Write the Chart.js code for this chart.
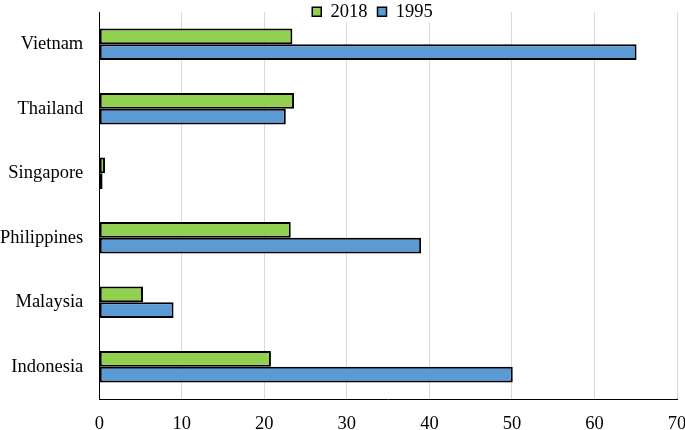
<!DOCTYPE html>
<html>
<head>
<meta charset="utf-8">
<script src="https://cdn.jsdelivr.net/npm/chart.js@4"></script>
<style>
  html, body { margin: 0; padding: 0; background: #fff; }
  #wrap { width: 685px; height: 430px; }
</style>
</head>
<body>
<div id="wrap"><canvas id="chart"></canvas></div>
<script>
// data
const countries = ['Vietnam', 'Thailand', 'Singapore', 'Philippines', 'Malaysia', 'Indonesia'];
const values2018 = [23.4, 23.6, 0.7, 23.2, 5.3, 20.8];
const values1995 = [65.1, 22.6, 0.4, 39.0, 9.0, 50.1];
const xTicks = [0, 10, 20, 30, 40, 50, 60, 70];

const serif = "'Liberation Serif', 'Times New Roman', serif";
const fontSize = 18.5;
const plotTop = 12, plotBottom = 399;

// legend overlaps the top of the plot, over a white patch (like the original)
const legendOverlay = {
  id: 'legendOverlay',
  afterLayout(chart) {
    const lg = chart.legend;
    const h = lg.height, w = lg.width;
    lg.top = -7.5;
    lg.bottom = lg.top + h;
    lg.left += 30;
    lg.right = lg.left + w;
  },
  beforeDatasetsDraw(chart) {
    const lg = chart.legend;
    const boxes = lg.legendHitBoxes || [];
    if (!boxes.length) return;
    const l = Math.min(...boxes.map(b => b.left)) - 4;
    const r = Math.max(...boxes.map(b => b.left + b.width)) + 4;
    const t = Math.max(0, Math.min(...boxes.map(b => b.top)));
    const b = Math.max(...boxes.map(b => b.top + b.height)) + 1;
    const ctx = chart.ctx;
    ctx.save();
    ctx.fillStyle = '#fff';
    ctx.fillRect(l, t, r - l, b - t);
    ctx.restore();
    lg.draw();
  }
};

const chart = new Chart(document.getElementById('chart'), {
  type: 'bar',
  data: {
    labels: countries,
    datasets: [
      { label: '2018', data: values2018, backgroundColor: '#92D050', borderColor: '#000', borderWidth: 2, borderSkipped: false },
      { label: '1995', data: values1995, backgroundColor: '#5B9BD5', borderColor: '#000', borderWidth: 2, borderSkipped: false }
    ]
  },
  plugins: [legendOverlay],
  options: {
    indexAxis: 'y',
    responsive: true,
    maintainAspectRatio: false,
    animation: false,
    layout: { padding: { left: 0, right: 0, top: 0, bottom: 0 } },
    datasets: { bar: { categoryPercentage: 0.49, barPercentage: 1.0 } },
    plugins: {
      tooltip: { enabled: false },
      legend: {
        position: 'top',
        align: 'center',
        labels: {
          font: { family: serif, size: fontSize },
          color: '#000',
          boxWidth: 9,
          boxHeight: 9,
          padding: 10,
          generateLabels: (chart) => chart.data.datasets.map((ds, i) => ({
            text: ds.label,
            fillStyle: ds.backgroundColor,
            strokeStyle: '#000',
            lineWidth: 1.5,
            datasetIndex: i,
            fontColor: '#000'
          }))
        }
      }
    },
    scales: {
      x: {
        min: 0,
        max: 70,
        afterBuildTicks: (axis) => { axis.ticks = xTicks.map(v => ({ value: v })); },
        afterFit: (axis) => { axis.paddingRight = 8; },
        grid: { color: '#d9d9d9', lineWidth: 1, drawTicks: false },
        border: { color: '#000', width: 1 },
        ticks: { font: { family: serif, size: fontSize, lineHeight: 1 }, color: '#000', padding: 16, maxRotation: 0 }
      },
      y: {
        afterFit: (axis) => { axis.width -= 16; axis.paddingTop = 0; axis.paddingBottom = 0; },
        grid: { display: false, drawTicks: false },
        border: { color: '#000', width: 1 },
        ticks: { font: { family: serif, size: fontSize }, color: '#000', padding: 16 }
      }
    }
  }
});

// second pass: pin the plot area to where it sits in the original
const ca = chart.chartArea;
chart.options.layout.padding.top = plotTop - ca.top;
chart.options.layout.padding.bottom = ca.bottom - plotBottom;
chart.update();
</script>
</body>
</html>
